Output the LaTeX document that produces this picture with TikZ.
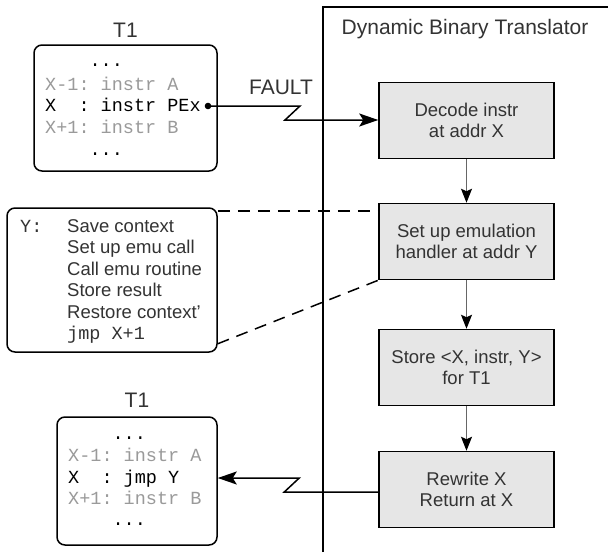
\documentclass[tikz,border=0pt]{standalone}
\usepackage{fontspec}
\setmainfont{Liberation Sans}
\setmonofont{Liberation Mono}
\usetikzlibrary{arrows.meta}

\definecolor{txt}{HTML}{333333}
\definecolor{dim}{HTML}{9A9A9A}
\definecolor{stepfill}{HTML}{E6E6E6}
\definecolor{flowgrey}{HTML}{666666}

\tikzset{
  base font/.style={font=\fontsize{18.5}{21.5}\selectfont},
  labeltext/.style={font=\fontsize{21}{24}\selectfont, text=txt, inner sep=0pt, anchor=base},
  stepbox/.style={draw=black, line width=1.5pt, fill=stepfill, base font, text=txt,
    minimum width=175pt, minimum height=76pt, align=center, inner sep=0pt},
  codebox/.style={draw=black, line width=1.5pt, rounded corners=8pt, fill=white, inner sep=0pt},
  codeline/.style={font=\fontsize{18.5}{21.5}\selectfont\ttfamily, inner sep=0pt, anchor=base west},
  sansline/.style={base font, text=txt, inner sep=0pt, anchor=base west},
  flow/.style={draw=flowgrey, line width=1pt, -{Stealth[length=14pt,width=11pt,inset=2.5pt,fill=black,color=black]}},
  bolt/.style={draw=black, line width=1.5pt, line join=miter, -{Stealth[length=19pt,width=13pt,inset=4pt]}},
  frameline/.style={draw=black, line width=1.6pt},
  dashline/.style={draw=black, line width=1.5pt, dash pattern=on 12pt off 8pt}
}

\begin{document}
\begin{tikzpicture}[x=1pt,y=-1pt]
\useasboundingbox (0,0) rectangle (608,552);

% Translator frame, open to the right and bottom
\draw[frameline] (323,552) -- (323,7) -- (608,7);
\node[labeltext] (dbtlabel) at (465,34.5) {Dynamic Binary Translator};

% Translator steps
\node[stepbox] (decode)  at (466.5,120.5) {Decode instr\\at addr X};
\node[stepbox] (setup)   at (466.5,241.5) {Set up emulation\\handler at addr Y};
\node[stepbox] (store)   at (466.5,367.5) {Store <X, instr, Y>\\for T1};
\node[stepbox] (rewrite) at (466.5,489.5) {Rewrite X\\Return at X};

\draw[flow] (decode) -- (setup);
\draw[flow] (setup) -- (store);
\draw[flow] (store) -- (rewrite);

% Thread T1 before the fault
\node[labeltext] (t1alabel) at (125.5,37) {T1};
\node[codebox, minimum width=183pt, minimum height=126pt] (t1a) at (125.5,108) {};
\foreach \yb/\txt/\col [count=\i] in {
    66/{\hphantom{X-1:}...}/black,
    90/{X-1:\ instr\ A}/dim,
    111.5/{X\ \ :\ instr\ PEx}/black,
    133/{X+1:\ instr\ B}/dim,
    155/{\hphantom{X-1:}...}/black}
  \node[codeline, text=\col] (t1a-\i) at (45,\yb) {\txt};

% Thread T1 after the rewrite
\node[labeltext] (t1blabel) at (137,407.5) {T1};
\node[codebox, minimum width=160pt, minimum height=128pt] (t1b) at (137,481) {};
\foreach \yb/\txt/\col [count=\i] in {
    439/{\hphantom{X-1:}...}/black,
    461/{X-1:\ instr\ A}/dim,
    483.5/{X\ \ :\ jmp\ Y}/black,
    504.5/{X+1:\ instr\ B}/dim,
    525.5/{\hphantom{X-1:}...}/black}
  \node[codeline, text=\col] (t1b-\i) at (68,\yb) {\txt};

% Emulation handler at Y
\node[codebox, minimum width=210pt, minimum height=144pt] (handler) at (112,280) {};
\node[codeline, text=txt] (hY) at (20,232) {Y:};
\node[sansline] (h1) at (67,232)   {Save context};
\node[sansline] (h2) at (67,253.5) {Set up emu call};
\node[sansline] (h3) at (67,275)   {Call emu routine};
\node[sansline] (h4) at (67,296.5) {Store result};
\node[sansline] (h5) at (67,318)   {Restore context'};
\node[codeline, text=txt] (h6) at (67,339.5) {jmp\ X+1};

\draw[dashline] ([yshift=-3.5pt]handler.north east) coordinate (hd1) -- (hd1 -| setup.west);
\draw[dashline] ([yshift=9pt]handler.south east) -- (setup.south west);

% Fault signal into the translator
\coordinate (pex) at (208,106);
\fill (pex) circle (3.3pt);
\node[labeltext] (faultlabel) at (281,94.5) {FAULT};
\draw[bolt] (pex) -- ++(92,0) -- ++(-15,14) coordinate (f1) -- (f1 -| decode.west);

% Return to the rewritten thread
\draw[bolt] ([yshift=-2.5pt]rewrite.west) -- ++(-94,0) -- ++(15,-14) coordinate (r1) -- (r1 -| t1b.east);
\end{tikzpicture}
\end{document}
